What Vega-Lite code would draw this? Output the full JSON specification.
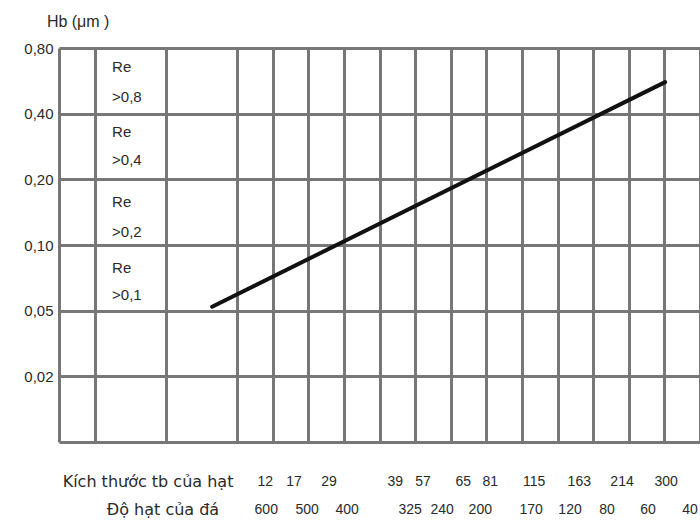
{
  "$schema": "https://vega.github.io/schema/vega-lite/v6.json",
  "width": 641,
  "height": 394,
  "autosize": "none",
  "padding": {"left": 59, "top": 48, "right": 0, "bottom": 84},
  "background": "white",
  "config": {"view": {"stroke": null}, "font": "Liberation Sans"},
  "datasets": {
    "curve": [
      {"col": 4.3, "row": 2.06},
      {"col": 17.02, "row": 5.48}
    ],
    "notes": [
      {"col": 1.49, "row": 5.71, "label": "Re"},
      {"col": 1.49, "row": 5.25, "label": ">0,8"},
      {"col": 1.49, "row": 4.72, "label": "Re"},
      {"col": 1.49, "row": 4.29, "label": ">0,4"},
      {"col": 1.49, "row": 3.65, "label": "Re"},
      {"col": 1.49, "row": 3.2, "label": ">0,2"},
      {"col": 1.49, "row": 2.65, "label": "Re"},
      {"col": 1.49, "row": 2.24, "label": ">0,1"}
    ],
    "heading": [
      {"col": -0.34, "row": 6.4, "label": "Hb (μm )"}
    ],
    "numbers": [
      {"col": 5.79, "row": -0.61, "label": "12"},
      {"col": 6.6, "row": -0.61, "label": "17"},
      {"col": 7.58, "row": -0.61, "label": "29"},
      {"col": 9.44, "row": -0.61, "label": "39"},
      {"col": 10.22, "row": -0.61, "label": "57"},
      {"col": 11.35, "row": -0.61, "label": "65"},
      {"col": 12.11, "row": -0.61, "label": "81"},
      {"col": 13.34, "row": -0.61, "label": "115"},
      {"col": 14.61, "row": -0.61, "label": "163"},
      {"col": 15.81, "row": -0.61, "label": "214"},
      {"col": 17.05, "row": -0.61, "label": "300"},
      {"col": 5.82, "row": -1.04, "label": "600"},
      {"col": 6.97, "row": -1.04, "label": "500"},
      {"col": 8.09, "row": -1.04, "label": "400"},
      {"col": 9.86, "row": -1.04, "label": "325"},
      {"col": 10.76, "row": -1.04, "label": "240"},
      {"col": 11.83, "row": -1.04, "label": "200"},
      {"col": 13.26, "row": -1.04, "label": "170"},
      {"col": 14.35, "row": -1.04, "label": "120"},
      {"col": 15.39, "row": -1.04, "label": "80"},
      {"col": 16.54, "row": -1.04, "label": "60"},
      {"col": 17.72, "row": -1.04, "label": "40"}
    ],
    "titles": [
      {"col": 2.5, "row": -0.61, "label": "Kích thước tb của hạt"},
      {"col": 2.92, "row": -1.04, "label": "Độ hạt của đá"}
    ]
  },
  "layer": [
    {
      "data": {"name": "curve"},
      "mark": {"type": "line", "color": "#111111", "strokeWidth": 4, "strokeCap": "round"},
      "encoding": {
        "x": {
          "field": "col",
          "type": "quantitative",
          "scale": {"domain": [0, 18], "nice": false, "zero": false},
          "axis": {
            "values": [0, 1, 3, 5, 6, 7, 8, 9, 10, 11, 12, 13, 14, 15, 16, 17, 18],
            "grid": true,
            "gridColor": "#777777",
            "gridWidth": 3,
            "gridOpacity": 1,
            "labels": false,
            "ticks": false,
            "domain": false,
            "title": null
          }
        },
        "y": {
          "field": "row",
          "type": "quantitative",
          "scale": {"domain": [0, 6], "nice": false, "zero": false},
          "axis": {
            "values": [0, 1, 2, 3, 4, 5, 6],
            "grid": true,
            "gridColor": "#777777",
            "gridWidth": 3,
            "gridOpacity": 1,
            "ticks": false,
            "domain": false,
            "title": null,
            "labelFontSize": 15,
            "labelColor": "#2a2a2a",
            "labelPadding": 6,
            "labelExpr": "datum.value == 6 ? '0,80' : datum.value == 5 ? '0,40' : datum.value == 4 ? '0,20' : datum.value == 3 ? '0,10' : datum.value == 2 ? '0,05' : datum.value == 1 ? '0,02' : ''"
          }
        }
      }
    },
    {
      "data": {"name": "notes"},
      "mark": {"type": "text", "align": "left", "baseline": "middle", "fontSize": 15, "color": "#2a2a2a"},
      "encoding": {
        "x": {"field": "col", "type": "quantitative"},
        "y": {"field": "row", "type": "quantitative"},
        "text": {"field": "label"}
      }
    },
    {
      "data": {"name": "heading"},
      "mark": {"type": "text", "align": "left", "baseline": "middle", "fontSize": 16, "color": "#2a2a2a"},
      "encoding": {
        "x": {"field": "col", "type": "quantitative"},
        "y": {"field": "row", "type": "quantitative"},
        "text": {"field": "label"}
      }
    },
    {
      "data": {"name": "numbers"},
      "mark": {"type": "text", "align": "center", "baseline": "middle", "fontSize": 14, "color": "#2a2a2a"},
      "encoding": {
        "x": {"field": "col", "type": "quantitative"},
        "y": {"field": "row", "type": "quantitative"},
        "text": {"field": "label"}
      }
    },
    {
      "data": {"name": "titles"},
      "mark": {"type": "text", "align": "center", "baseline": "middle", "fontSize": 16, "font": "DejaVu Sans", "color": "#2a2a2a"},
      "encoding": {
        "x": {"field": "col", "type": "quantitative"},
        "y": {"field": "row", "type": "quantitative"},
        "text": {"field": "label"}
      }
    }
  ]
}
